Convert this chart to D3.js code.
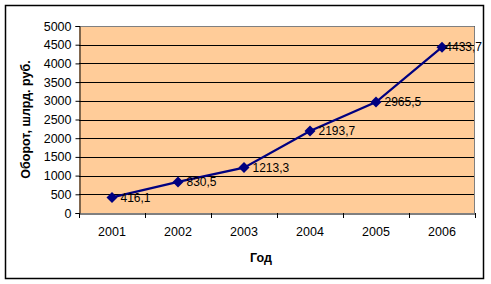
<!DOCTYPE html>
<html><head><meta charset="utf-8">
<script src="https://cdn.jsdelivr.net/npm/d3@7"></script>
<style>body{margin:0;background:#fff}svg{display:block}text{font-family:"Liberation Sans",Arial,sans-serif}</style>
</head><body>
<script>
const years = ["2001","2002","2003","2004","2005","2006"];
const values = [416.1, 830.5, 1213.3, 2193.7, 2965.5, 4433.7];
const valueLabels = ["416,1","830,5","1213,3","2193,7","2965,5","4433,7"];
const yTicks = [0,500,1000,1500,2000,2500,3000,3500,4000,4500,5000];
const yTitle = "Оборот, шлрд. руб.";
const xTitle = "Год";

const W=491,H=284;
const FS=12.5;
const svg=d3.select("body").append("svg").attr("width",W).attr("height",H);
svg.append("rect").attr("x",5.5).attr("y",5.5).attr("width",478).attr("height",273)
  .attr("fill","#fff").attr("stroke","#000").attr("stroke-width",1.5);

const L=79,R=475,T=26,B=213;
const x=d3.scaleBand().domain(years).range([L,R]);
const y=d3.scaleLinear().domain([0,5000]).range([B,T]);

svg.append("rect").attr("x",L).attr("y",T).attr("width",R-L).attr("height",B-T).attr("fill","#FFCC99");
svg.append("g").selectAll("line").data(yTicks.filter(d=>d>0)).join("line")
  .attr("x1",L).attr("x2",R).attr("y1",d=>Math.round(y(d))+0.5).attr("y2",d=>Math.round(y(d))+0.5)
  .attr("stroke","#000").attr("stroke-width",1);
svg.append("path").attr("d",`M${L},${T+0.5}H${R-0.5}V${B}`).attr("fill","none").attr("stroke","#808080");

const ya=svg.append("g").attr("transform",`translate(${L+0.5},0)`)
  .call(d3.axisLeft(y).tickValues(yTicks).tickSize(4).tickPadding(4).tickFormat(d3.format("d")));
ya.select(".domain").attr("stroke","#000");
ya.selectAll("line").attr("stroke","#000");
ya.selectAll("text").attr("font-size",FS).attr("fill","#000").style("font-family","Liberation Sans, Arial");

const xa=svg.append("g").attr("transform",`translate(0,${B+0.5})`)
  .call(d3.axisBottom(x).tickSize(0).tickPadding(14));
xa.select(".domain").attr("stroke","#000");
xa.selectAll("text").attr("font-size",FS).attr("fill","#000").style("font-family","Liberation Sans, Arial");
const bounds=years.map(d=>x(d)).concat([R]);
svg.append("g").selectAll("line").data(bounds).join("line")
  .attr("x1",d=>Math.round(d)+0.5).attr("x2",d=>Math.round(d)+0.5)
  .attr("y1",B).attr("y2",B+5).attr("stroke","#000");

const cx=d=>x(d)+x.bandwidth()/2;
svg.append("path").datum(values.map((v,i)=>[cx(years[i]),y(v)]))
  .attr("d",d3.line()).attr("fill","none").attr("stroke","#000080").attr("stroke-width",2.2);
svg.append("g").selectAll("path").data(values).join("path")
  .attr("transform",(d,i)=>`translate(${cx(years[i])},${y(d)})`)
  .attr("d","M0,-5.5L5.5,0L0,5.5L-5.5,0Z").attr("fill","#000080");
svg.append("g").selectAll("text").data(values).join("text")
  .attr("x",(d,i)=>cx(years[i])+8.5).attr("y",d=>y(d)).attr("dy","0.36em")
  .attr("font-size",12).attr("fill","#000").text((d,i)=>valueLabels[i])
  .each(function(){
    const w=this.getComputedTextLength();
    const x0=+this.getAttribute("x");
    if(x0+w>482) this.setAttribute("x",482-w);
  });

svg.append("text").attr("transform",`translate(30,${(T+B)/2}) rotate(-90)`)
  .attr("text-anchor","middle").attr("font-size",FS).attr("font-weight","bold").text(yTitle);
svg.append("text").attr("x",261).attr("y",262).attr("text-anchor","middle")
  .attr("font-size",FS).attr("font-weight","bold").text(xTitle);
</script>
</body></html>
